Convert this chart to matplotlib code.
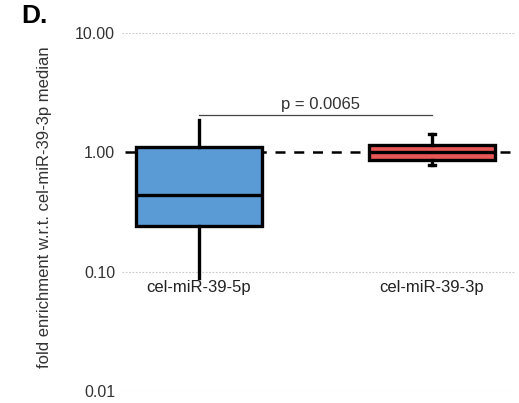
import matplotlib
matplotlib.use("Agg")
import matplotlib.pyplot as plt
import numpy as np

plt.rcParams['font.family'] = ['Liberation Sans', 'DejaVu Sans']

categories = ["cel-miR-39-5p", "cel-miR-39-3p"]
whisk_low = [0.089, 0.78]
q1 = [0.24, 0.87]
medians = [0.44, 1.0]
q3 = [1.12, 1.15]
whisk_high = [1.86, 1.42]
colors = ["#5b9bd5", "#e85656"]
p_text = "p = 0.0065"
yticks = [0.01, 0.1, 1.0, 10.0]
ytick_labels = ["0.01", "0.10", "1.00", "10.00"]

fig = plt.figure(figsize=(5.19, 4.03), dpi=100)
ax = fig.add_axes([0.235, 0.0298, 0.757, 0.888])
ax.set_yscale('log')
ax.set_ylim(0.01, 10)
ax.set_xlim(0.67, 2.356)

for y in [0.01, 0.1, 10.0]:
    ax.axhline(y, color='#c8c8c8', lw=0.8, ls=(0, (1.5, 1.5)), zorder=0)
ax.axhline(1.0, xmin=0.008, color='black', lw=1.8, ls=(0, (4, 3.5)), zorder=1)

stats = []
for i, c in enumerate(categories):
    stats.append(dict(med=medians[i], q1=q1[i], q3=q3[i],
                      whislo=whisk_low[i], whishi=whisk_high[i], label=c))
bp = ax.bxp(stats, positions=[1, 2], widths=0.54, patch_artist=True,
            showfliers=False,
            boxprops=dict(lw=2.4, edgecolor='black'),
            medianprops=dict(color='black', lw=2.4),
            whiskerprops=dict(color='black', lw=2.4),
            capprops=dict(color='black', lw=2.4))
for patch, col in zip(bp['boxes'], colors):
    patch.set_facecolor(col)
    patch.set_zorder(2)
cap_half = [0.0, 0.012]
for j, cap in enumerate(bp['caps']):
    m = cap.get_xdata().mean()
    h = cap_half[j // 2]
    cap.set_xdata([m - h, m + h])
    if h == 0:
        cap.set_visible(False)

for s in ax.spines.values():
    s.set_visible(False)
ax.set_xticks([])
ax.set_yticks(yticks)
ax.set_yticklabels(ytick_labels, fontsize=11.5, color='#333333')
ax.yaxis.set_minor_locator(matplotlib.ticker.NullLocator())
ax.tick_params(axis='y', length=0, pad=5)

for i, c in enumerate(categories):
    ax.text(i + 1, 0.085, c, ha='center', va='top', fontsize=12, color='#222222')

# significance bar
ax.plot([1, 2], [2.05, 2.05], color='#444444', lw=0.9)
ax.text(1.52, 2.2, p_text, ha='center', va='bottom', fontsize=12, color='#333333')

ax.set_ylabel("fold enrichment w.r.t. cel-miR-39-3p median", fontsize=12, color='#333333')
ax.yaxis.set_label_coords(-0.178, 0.514)

fig.text(0.04, 0.96, "D.", fontsize=19, fontweight='bold', ha='left', va='center')

fig.savefig("out.png", dpi=100)
